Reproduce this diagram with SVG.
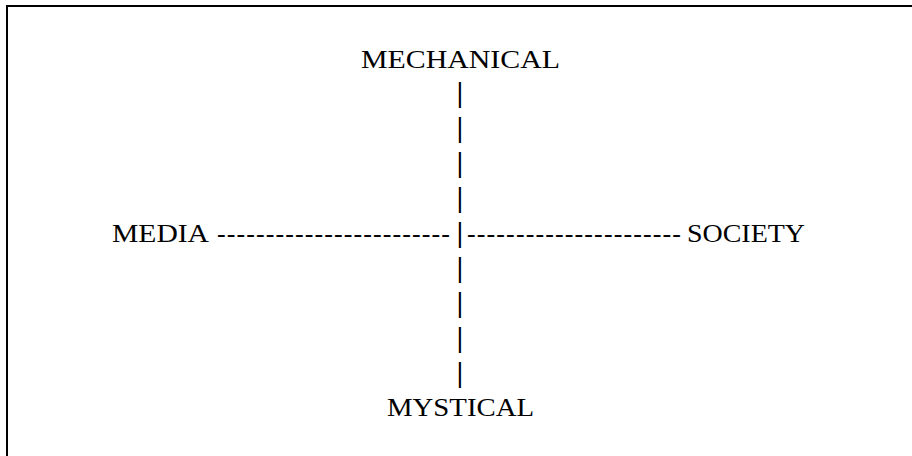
<svg xmlns="http://www.w3.org/2000/svg" width="912" height="456" viewBox="0 0 912 456">
  <style>
    .lbl { font-family: "Liberation Serif", "Times New Roman", serif; font-size: 26px; fill: #000; }
    .bar { font-family: "DejaVu Serif", serif; font-size: 26px; fill: #000; text-anchor: middle; }
    .dash { font-family: "Liberation Serif", "Times New Roman", serif; font-size: 26px; fill: #000; }
  </style>
  <rect x="7" y="6" width="920" height="460" fill="#fff" stroke="#000" stroke-width="2"/>
  <g id="mechanical">
    <text class="lbl" x="361" y="68" textLength="199" lengthAdjust="spacingAndGlyphs">MECHANICAL</text>
  </g>
  <g id="media">
    <text class="lbl" x="112" y="242" textLength="97" lengthAdjust="spacingAndGlyphs">MEDIA</text>
  </g>
  <g id="society">
    <text class="lbl" x="687" y="242" textLength="118" lengthAdjust="spacingAndGlyphs">SOCIETY</text>
  </g>
  <g id="mystical">
    <text class="lbl" x="387" y="416" textLength="147" lengthAdjust="spacingAndGlyphs">MYSTICAL</text>
  </g>
  <g id="connectors">
    <text class="bar" x="460" y="102">|</text>
    <text class="bar" x="460" y="137">|</text>
    <text class="bar" x="460" y="172">|</text>
    <text class="bar" x="460" y="207">|</text>
    <text class="bar" x="460" y="242">|</text>
    <text class="bar" x="460" y="277">|</text>
    <text class="bar" x="460" y="312">|</text>
    <text class="bar" x="460" y="347">|</text>
    <text class="bar" x="460" y="382">|</text>
    <text class="dash" x="217" y="242" textLength="233" lengthAdjust="spacing">------------------------</text>
    <text class="dash" x="467" y="242" textLength="214" lengthAdjust="spacing">----------------------</text>
  </g>
</svg>
